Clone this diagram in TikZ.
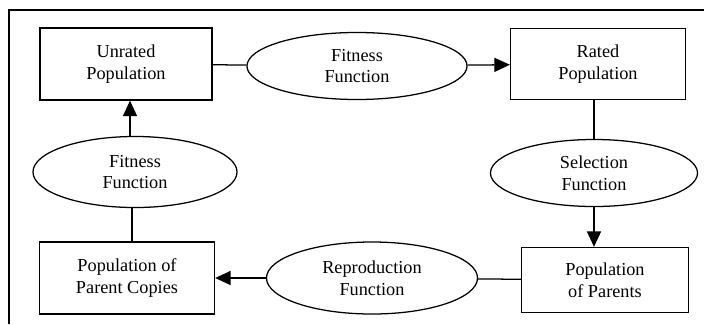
\documentclass[tikz,border=0pt]{standalone}
\usepackage{fontspec}
\setmainfont{Liberation Serif}
\usepackage{tikz}
\usetikzlibrary{positioning,arrows.meta,shapes.geometric}

\begin{document}
\begin{tikzpicture}[
    x=0.025cm,
    y=-0.025cm,
    line width=0.9pt,
    >={Triangle[length=11pt,width=10pt]},
    font=\fontsize{13}{15.5}\selectfont
]

\tikzstyle{pop}=[
    rectangle,
    draw,
    inner sep=0pt,
    align=center
]
\tikzstyle{func}=[
    ellipse,
    draw,
    inner sep=0pt,
    align=center
]

\useasboundingbox (0,0) rectangle (704,324);

% frame
\draw (704,10) -- (9,10) -- (9,324);

\node[pop, minimum width=4.3cm, minimum height=1.8cm] (unrated) at (126,64) {Unrated\\Population};
\node[func, minimum width=5.5cm, minimum height=1.675cm] (fitT) at (357,66) {Fitness\\Function};
\node[pop, minimum width=4.375cm, minimum height=1.775cm] (rated) at (598,64) {Rated\\Population};

\node[func, minimum width=5.175cm, minimum height=1.675cm] (sel) at (594,173) {Selection\\Function};
\node[func, minimum width=5.1cm, minimum height=1.775cm] (fitL) at (135,172) {Fitness\\Function};

\node[pop, minimum width=4.375cm, minimum height=1.8cm] (copies) at (127,278) {Population of\\Parent Copies};
\node[func, minimum width=5.275cm, minimum height=1.8cm] (repro) at (372,278) {Reproduction\\Function};
\node[pop, minimum width=4.175cm, minimum height=1.625cm] (parents) at (605,280) {Population\\of Parents};

\draw (unrated) -- (fitT);
\draw[->] (fitT) -- (rated);
\draw (rated.south -| sel.north) -- (sel);
\draw[->] (sel) -- (sel |- parents.north);
\draw (parents) -- (repro);
\draw[->] (repro) -- (copies);
\draw (copies.north -| 132,0) -- (fitL.south -| 132,0);
\draw[->] (fitL.north -| 130,0) -- (unrated.south -| 130,0);

\end{tikzpicture}
\end{document}
